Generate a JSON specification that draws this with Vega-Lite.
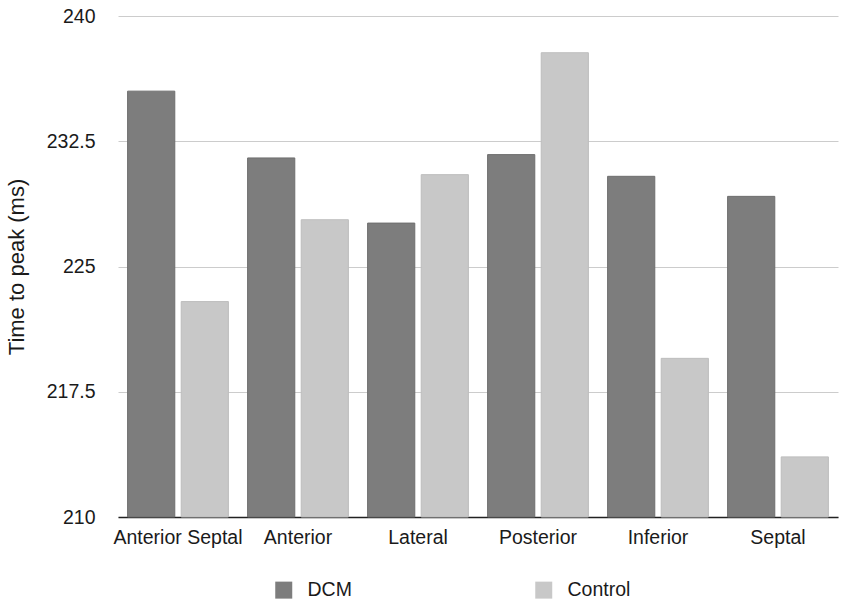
{
  "$schema": "https://vega.github.io/schema/vega-lite/v6.json",
  "autosize": "none",
  "width": 720,
  "height": 501,
  "padding": {"left": 118, "top": 16, "right": 12, "bottom": 93},
  "background": "white",
  "config": {
    "font": "Liberation Sans",
    "view": {"stroke": null}
  },
  "data": {
    "values": [
      {"region": "Anterior Septal", "group": "DCM", "ms": 235.5},
      {"region": "Anterior Septal", "group": "Control", "ms": 222.9},
      {"region": "Anterior", "group": "DCM", "ms": 231.5},
      {"region": "Anterior", "group": "Control", "ms": 227.8},
      {"region": "Lateral", "group": "DCM", "ms": 227.6},
      {"region": "Lateral", "group": "Control", "ms": 230.5},
      {"region": "Posterior", "group": "DCM", "ms": 231.7},
      {"region": "Posterior", "group": "Control", "ms": 237.8},
      {"region": "Inferior", "group": "DCM", "ms": 230.4},
      {"region": "Inferior", "group": "Control", "ms": 219.5},
      {"region": "Septal", "group": "DCM", "ms": 229.2},
      {"region": "Septal", "group": "Control", "ms": 213.6}
    ]
  },
  "mark": {"type": "bar", "strokeWidth": 1},
  "encoding": {
    "x": {
      "field": "region",
      "type": "nominal",
      "sort": null,
      "title": null,
      "scale": {"paddingInner": 0.16, "paddingOuter": 0.08},
      "axis": {
        "labelAngle": 0,
        "labelFontSize": 19.5,
        "labelColor": "#1a1a1a",
        "labelPadding": 11,
        "labelLimit": 300,
        "ticks": false,
        "domainColor": "#222222",
        "domainWidth": 1.5,
        "grid": false
      }
    },
    "xOffset": {
      "field": "group",
      "type": "nominal",
      "sort": ["DCM", "Control"],
      "scale": {"paddingInner": 0.12}
    },
    "y": {
      "field": "ms",
      "type": "quantitative",
      "title": "Time to peak (ms)",
      "scale": {"domain": [210, 240], "zero": false, "nice": false},
      "axis": {
        "values": [210, 217.5, 225, 232.5, 240],
        "format": ".1~f",
        "labelFontSize": 19.5,
        "labelColor": "#1a1a1a",
        "labelPadding": 23,
        "ticks": false,
        "domain": false,
        "gridColor": "#cccccc",
        "gridWidth": 1,
        "titleFontSize": 22,
        "titleFontWeight": "normal",
        "titleColor": "#1a1a1a",
        "titlePadding": 18
      }
    },
    "y2": {"datum": 210},
    "color": {
      "field": "group",
      "type": "nominal",
      "sort": ["DCM", "Control"],
      "scale": {"domain": ["DCM", "Control"], "range": ["#7d7d7d", "#c8c8c8"]},
      "legend": {
        "title": null,
        "orient": "none",
        "direction": "horizontal",
        "legendX": 156,
        "legendY": 564,
        "symbolType": "square",
        "symbolSize": 289,
        "symbolStrokeWidth": 0,
        "labelFontSize": 19.5,
        "labelColor": "#1a1a1a",
        "labelOffset": 14,
        "columnPadding": 182
      }
    },
    "stroke": {
      "field": "group",
      "type": "nominal",
      "scale": {"domain": ["DCM", "Control"], "range": ["#6f6f6f", "#bdbdbd"]},
      "legend": null
    }
  }
}
